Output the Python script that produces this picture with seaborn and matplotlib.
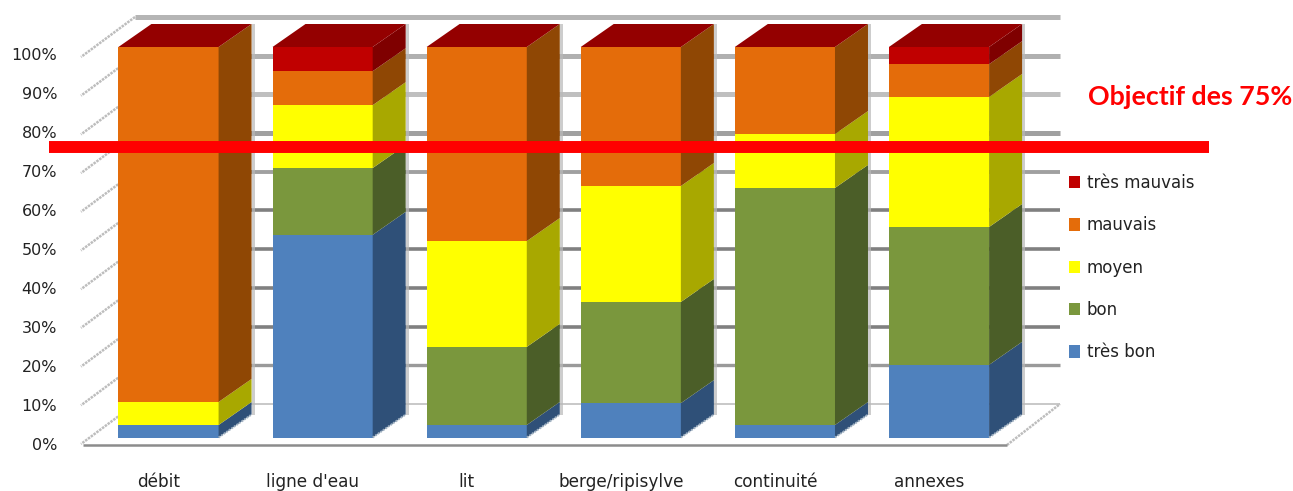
import matplotlib
matplotlib.use("Agg")
import matplotlib.pyplot as plt
import matplotlib.transforms as mtrans
import numpy as np
import pandas as pd
import seaborn as sns

# ---------------------------------------------------------
# Data (% of the stack)
# ---------------------------------------------------------
categories = ["débit", "ligne d'eau", "lit", "berge/ripisylve", "continuité", "annexes"]
tres_bon = [3.2, 51.9, 3.2, 8.8, 3.2, 18.6]
bon = [0.0, 17.1, 20.0, 25.9, 60.7, 35.3]
moyen = [5.9, 16.1, 27.1, 29.7, 13.8, 33.3]
mauvais = [90.9, 8.7, 49.7, 35.6, 22.3, 8.4]
tres_mauvais = [0.0, 6.2, 0.0, 0.0, 0.0, 4.4]
y_ticks = [0, 10, 20, 30, 40, 50, 60, 70, 80, 90, 100]
y_labels = ["0%", "10%", "20%", "30%", "40%", "50%", "60%", "70%", "80%", "90%", "100%"]
objectif = 74.4

series_names = ["très bon", "bon", "moyen", "mauvais", "très mauvais"]
series_values = [tres_bon, bon, moyen, mauvais, tres_mauvais]
front_colors = ["#4f81bd", "#7a973d", "#ffff00", "#e46c0a", "#c00000"]
side_colors = ["#2f5078", "#4b5e28", "#a8a800", "#8f4704", "#7f0000"]
top_color = "#940000"
grid_colors = ["#c8c8c8", "#9a9a9a", "#808080", "#808080", "#808080",
               "#808080", "#a0a0a0", "#a0a0a0", "#bfbfbf", "#b0b0b0", "#b5b5b5"]
grid_widths = [1.4, 2.4, 2.6, 2.6, 2.6, 2.6, 2.8, 3.6, 3.6, 3.6, 3.6]

# pixel layout helpers (1293x491 canvas)
W, H = 1293, 491
PX_PER_PCT = 3.905
PX_PER_CAT = 154.1


def x_of(px):
    return (px - 168.5) / PX_PER_CAT


def y_of(py):
    return (437.5 - py) / PX_PER_PCT


sns.set_theme(style="white")
plt.rcParams["font.family"] = ["DejaVu Sans"]

fig = plt.figure(figsize=(W / 100, H / 100), dpi=100)
ax = fig.add_axes([83 / W, 1 - 445 / H, (1060 - 83) / W, (445 - 15) / H])

df = pd.DataFrame({"categorie": categories})
bottom = np.zeros(len(categories))
bar_width = 0.65
depth_x = 33 / PX_PER_CAT
depth_y = 23 / PX_PER_PCT

for name, vals, col, side in zip(series_names, series_values, front_colors, side_colors):
    df["valeur"] = vals
    sns.barplot(data=df, x="categorie", y="valeur", order=categories, color=col,
                saturation=1, width=bar_width, bottom=bottom, label=name,
                linewidth=0, zorder=3, ax=ax)
    # right hand face of each segment
    for i, v in enumerate(vals):
        if v <= 0:
            continue
        xr = i + bar_width / 2
        y0, y1 = bottom[i], bottom[i] + v
        ax.fill([xr, xr + depth_x, xr + depth_x, xr],
                [y0, y0 + depth_y, y1 + depth_y, y1],
                color=side, lw=0, zorder=3)
    bottom = bottom + np.array(vals)

# top faces and the soft strip behind each bar
for i, total in enumerate(bottom):
    xl, xr = i - bar_width / 2, i + bar_width / 2
    ax.fill([xl, xr, xr + depth_x, xl + depth_x],
            [total, total, total + depth_y, total + depth_y],
            color=top_color, lw=0, zorder=3)
    ax.fill([xr + depth_x, xr + depth_x + 3 / PX_PER_CAT, xr + depth_x + 3 / PX_PER_CAT, xr + depth_x],
            [depth_y, depth_y, total + depth_y, total + depth_y],
            color="#b9b9b9", alpha=0.7, lw=0, zorder=2.5)
    ax.plot([xr, xr + depth_x], [0, depth_y], color="#9fb0c0", lw=1.4,
            ls=(0, (1, 0.6)), zorder=4)

# back wall, left wall and floor
wall_left, wall_right = x_of(135), x_of(1060)
for v, gc, gw in zip(y_ticks, grid_colors, grid_widths):
    yb = y_of(404 - 3.87 * v)
    ax.plot([wall_left, wall_right], [yb, yb], color=gc, lw=gw, zorder=1,
            solid_capstyle="butt", clip_on=False)
    ax.plot([wall_left, x_of(81)], [yb, yb - 40 / PX_PER_PCT], color="#bdbdbd", lw=1.8,
            ls=(0, (1, 0.4)), zorder=1, clip_on=False)
floor_y = y_of(445)
ax.plot([x_of(83), x_of(1007)], [floor_y, floor_y], color="#8c8c8c", lw=1.8,
        zorder=2, solid_capstyle="butt", clip_on=False)
ax.plot([x_of(1007), x_of(1060)], [floor_y, y_of(404)], color="#bdbdbd", lw=1.8,
        ls=(0, (1, 0.4)), zorder=1, clip_on=False)

# objective line
ax.plot([x_of(49), x_of(1209)], [objectif, objectif], color="#ff0000", lw=8.6,
        solid_capstyle="butt", zorder=6, clip_on=False)
fig.text(1190 / W, 1 - 97 / H, "Objectif des 75%", color="#ff0000", family="Lato",
         fontweight="bold", fontsize=19.3, ha="center", va="center")

ax.set_xlim(x_of(83), x_of(1060))
ax.set_ylim(y_of(445), y_of(15))
ax.set_xlabel("")
ax.set_ylabel("")
ax.set_yticks(y_ticks)
ax.set_yticklabels(y_labels)
ax.set_xticks(range(len(categories)))
ax.set_xticklabels(categories)
ax.tick_params(axis="y", length=0, pad=18.7, labelsize=11.5, labelcolor="#222222")
ax.tick_params(axis="x", length=0, pad=20, labelsize=12.2, labelcolor="#222222")
sns.despine(ax=ax, left=True, bottom=True)

shift_y = mtrans.ScaledTranslation(0, -6.5 / 100, fig.dpi_scale_trans)
for lab in ax.get_yticklabels():
    lab.set_transform(lab.get_transform() + shift_y)
shift_x = mtrans.ScaledTranslation(-10 / 100, 0, fig.dpi_scale_trans)
for lab in ax.get_xticklabels():
    lab.set_transform(lab.get_transform() + shift_x)

handles, labels = ax.get_legend_handles_labels()
ax.legend(handles[::-1], labels[::-1], loc="upper left",
          bbox_to_anchor=(1069 / W, 1 - 174 / H), bbox_transform=fig.transFigure,
          frameon=False, fontsize=12, labelcolor="#222222", handlelength=0.66,
          handleheight=0.78, handletextpad=0.42, labelspacing=1.46, borderpad=0,
          borderaxespad=0)

fig.savefig("out.png", dpi=100)
